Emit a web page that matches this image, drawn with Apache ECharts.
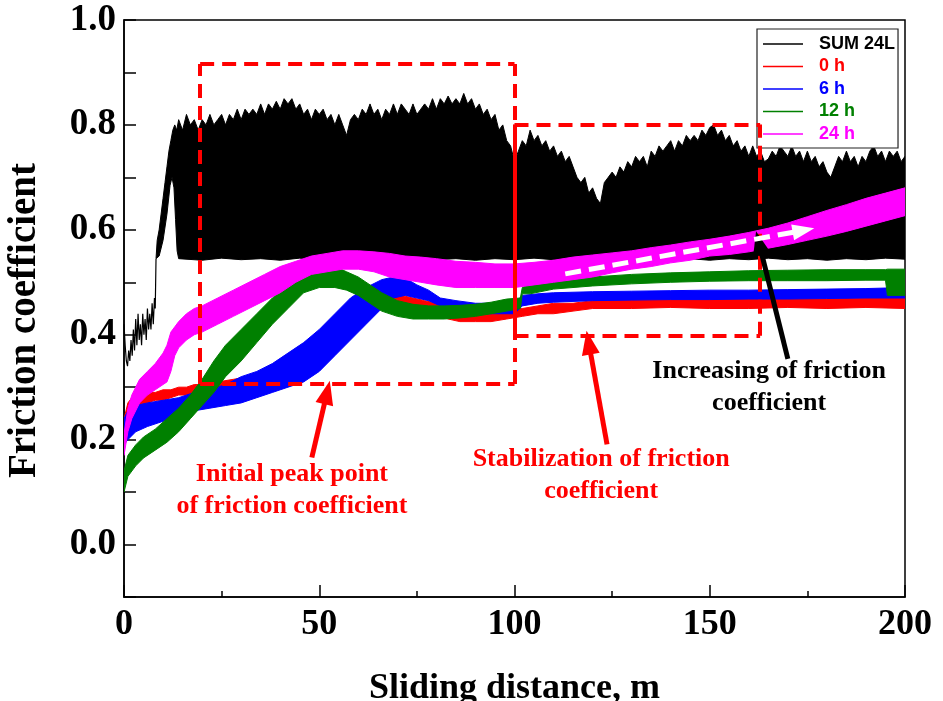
<!DOCTYPE html>
<html>
<head>
<meta charset="utf-8">
<script src="https://cdn.jsdelivr.net/npm/echarts@6/dist/echarts.min.js"></script>
<style>
  html, body { margin: 0; padding: 0; background: #fff; }
  #chart { width: 943px; height: 701px; }
</style>
</head>
<body>
<div id="chart"></div>
<script>
// ---- Friction coefficient vs sliding distance ----
const seriesNames = ['SUM 24L', '0 h', '6 h', '12 h', '24 h'];
const xTicks = [0, 50, 100, 150, 200];
const yTicks = [0.0, 0.2, 0.4, 0.6, 0.8, 1.0];

// SUM 24L: running-in trace before the large oscillation sets in [distance, mu]
const sum24Start = [
  [0, 0.42], [0.3, 0.38], [0.6, 0.35], [0.9, 0.34], [1.2, 0.37], [1.5, 0.35], [1.8, 0.39],
  [2.1, 0.36], [2.4, 0.41], [2.7, 0.37], [3.0, 0.43], [3.3, 0.38], [3.6, 0.44], [3.9, 0.39],
  [4.2, 0.42], [4.5, 0.38], [4.8, 0.44], [5.1, 0.40], [5.4, 0.43], [5.7, 0.39], [6.0, 0.45],
  [6.3, 0.41], [6.6, 0.44], [6.9, 0.41], [7.2, 0.46], [7.5, 0.42], [7.8, 0.47], [8.0, 0.45],
  [8.2, 0.545]
];

// SUM 24L oscillation band: upper envelope (early ramp, then 1 m sampling)
const sum24UpperRamp = [
  [8.2, 0.545], [8.5, 0.58], [9, 0.60], [9.5, 0.63], [10, 0.66], [10.5, 0.69], [11, 0.72],
  [11.5, 0.75], [12, 0.77], [12.5, 0.79], [13, 0.80], [13.5, 0.79]
];
const sum24UpperFrom14 = [
  0.81, 0.79, 0.82, 0.80, 0.81, 0.79, 0.81, 0.80, 0.82, 0.80, 0.81, 0.82, 0.80, 0.82, 0.81, 0.83,
  0.81, 0.83, 0.82, 0.83, 0.82, 0.84, 0.82, 0.84, 0.83, 0.845, 0.83, 0.85, 0.84, 0.85, 0.83, 0.84,
  0.82, 0.83, 0.81, 0.83, 0.82, 0.83, 0.81, 0.82, 0.80, 0.82, 0.80, 0.78, 0.81, 0.82, 0.81, 0.83,
  0.82, 0.84, 0.82, 0.83, 0.81, 0.83, 0.82, 0.84, 0.82, 0.84, 0.83, 0.82, 0.84, 0.82, 0.83, 0.84,
  0.83, 0.85, 0.83, 0.85, 0.84, 0.855, 0.84, 0.85, 0.84, 0.86, 0.84, 0.85, 0.83, 0.84, 0.82, 0.83,
  0.81, 0.82, 0.79, 0.80, 0.77, 0.76, 0.73, 0.75, 0.77, 0.76, 0.79, 0.77, 0.78, 0.76, 0.77, 0.75,
  0.76, 0.74, 0.75, 0.73, 0.74, 0.72, 0.70, 0.69, 0.70, 0.67, 0.68, 0.66, 0.65, 0.69, 0.70, 0.71,
  0.70, 0.72, 0.71, 0.73, 0.72, 0.74, 0.73, 0.74, 0.72, 0.75, 0.74, 0.76, 0.75, 0.76, 0.77, 0.75,
  0.77, 0.76, 0.78, 0.77, 0.78, 0.77, 0.79, 0.78, 0.795, 0.80, 0.78, 0.79, 0.77, 0.78, 0.76, 0.77,
  0.75, 0.76, 0.74, 0.76, 0.74, 0.75, 0.73, 0.735, 0.75, 0.74, 0.76, 0.75, 0.74, 0.76, 0.74, 0.75,
  0.73, 0.75, 0.73, 0.74, 0.72, 0.73, 0.71, 0.70, 0.72, 0.74, 0.73, 0.75, 0.73, 0.74, 0.72, 0.74,
  0.73, 0.75, 0.76, 0.74, 0.75, 0.73, 0.75, 0.74, 0.75, 0.73, 0.74
];
// SUM 24L oscillation band: lower envelope [distance, mu]
const sum24Lower = [
  [8.2, 0.545], [9, 0.55], [10, 0.58], [11, 0.63], [11.8, 0.685], [12.3, 0.70], [12.8, 0.68],
  [13.2, 0.62], [13.6, 0.56], [14, 0.545], [20, 0.542], [25, 0.546], [30, 0.543], [35, 0.545],
  [40, 0.542], [45, 0.546], [50, 0.543], [55, 0.545], [60, 0.542], [65, 0.545], [70, 0.543],
  [75, 0.546], [80, 0.543], [85, 0.545], [90, 0.542], [95, 0.545], [100, 0.543], [105, 0.546],
  [110, 0.543], [115, 0.545], [120, 0.542], [125, 0.545], [130, 0.543], [135, 0.546], [140, 0.543],
  [145, 0.545], [150, 0.542], [155, 0.545], [160, 0.543], [165, 0.546], [170, 0.543], [175, 0.545],
  [180, 0.542], [185, 0.545], [190, 0.543], [195, 0.546], [200, 0.544]
];

// Oscillation bands of the treated samples: [distance, lower mu, upper mu]
const band0h = [
  [0, 0.20, 0.24], [1, 0.24, 0.27], [2, 0.255, 0.28], [4, 0.265, 0.285], [6, 0.27, 0.29],
  [8, 0.275, 0.29], [10, 0.275, 0.295], [12, 0.28, 0.295], [14, 0.285, 0.30], [16, 0.285, 0.30],
  [18, 0.29, 0.305], [20, 0.29, 0.305], [24, 0.295, 0.31], [28, 0.30, 0.315], [32, 0.305, 0.32],
  [36, 0.31, 0.325], [40, 0.315, 0.33], [44, 0.325, 0.345], [48, 0.345, 0.37], [52, 0.38, 0.41],
  [55, 0.41, 0.44], [58, 0.44, 0.465], [60, 0.45, 0.47], [62, 0.455, 0.475], [65, 0.46, 0.48],
  [68, 0.46, 0.48], [71, 0.455, 0.475], [74, 0.45, 0.47], [77, 0.445, 0.465], [80, 0.44, 0.46],
  [83, 0.43, 0.45], [86, 0.425, 0.445], [90, 0.425, 0.44], [94, 0.425, 0.44], [98, 0.43, 0.445],
  [102, 0.435, 0.45], [106, 0.44, 0.455], [110, 0.44, 0.46], [115, 0.445, 0.46], [120, 0.45, 0.465],
  [130, 0.45, 0.468], [140, 0.452, 0.47], [150, 0.45, 0.47], [160, 0.45, 0.468], [170, 0.452, 0.47],
  [180, 0.45, 0.468], [190, 0.452, 0.47], [200, 0.45, 0.47]
];
const band6h = [
  [0, 0.19, 0.24], [1, 0.20, 0.255], [3, 0.215, 0.265], [6, 0.225, 0.27], [10, 0.235, 0.275],
  [14, 0.245, 0.28], [18, 0.255, 0.29], [22, 0.26, 0.295], [26, 0.265, 0.305], [30, 0.27, 0.32],
  [34, 0.28, 0.33], [38, 0.29, 0.345], [42, 0.30, 0.365], [46, 0.31, 0.385], [50, 0.33, 0.41],
  [54, 0.36, 0.44], [58, 0.39, 0.47], [62, 0.42, 0.49], [66, 0.45, 0.505], [69, 0.47, 0.51],
  [72, 0.475, 0.508], [75, 0.47, 0.495], [78, 0.465, 0.485], [81, 0.455, 0.47], [85, 0.445, 0.465],
  [90, 0.44, 0.46], [95, 0.44, 0.46], [100, 0.44, 0.46], [102, 0.455, 0.475], [106, 0.46, 0.478],
  [110, 0.462, 0.48], [120, 0.465, 0.482], [130, 0.466, 0.483], [140, 0.467, 0.484],
  [150, 0.467, 0.485], [160, 0.468, 0.485], [170, 0.468, 0.486], [180, 0.469, 0.487],
  [190, 0.47, 0.488], [200, 0.47, 0.49]
];
const band12h = [
  [0, 0.10, 0.14], [1, 0.13, 0.17], [3, 0.15, 0.19], [5, 0.165, 0.205], [8, 0.18, 0.22],
  [11, 0.195, 0.24], [14, 0.215, 0.26], [17, 0.24, 0.285], [20, 0.265, 0.315], [23, 0.29, 0.35],
  [26, 0.32, 0.38], [30, 0.35, 0.41], [34, 0.385, 0.44], [38, 0.42, 0.47], [42, 0.45, 0.495],
  [46, 0.48, 0.515], [50, 0.49, 0.525], [54, 0.49, 0.53], [57, 0.485, 0.52], [60, 0.475, 0.51],
  [63, 0.46, 0.495], [66, 0.445, 0.48], [70, 0.435, 0.465], [74, 0.43, 0.458], [78, 0.43, 0.455],
  [82, 0.43, 0.455], [86, 0.432, 0.456], [90, 0.435, 0.458], [94, 0.44, 0.462], [98, 0.445, 0.468],
  [101.5, 0.45, 0.47], [102, 0.478, 0.49], [104, 0.478, 0.497], [110, 0.487, 0.505],
  [120, 0.493, 0.51], [130, 0.497, 0.515], [140, 0.50, 0.518], [150, 0.502, 0.52],
  [160, 0.503, 0.522], [170, 0.503, 0.523], [180, 0.503, 0.524], [190, 0.504, 0.524],
  [195, 0.504, 0.524], [195.5, 0.475, 0.525], [200, 0.475, 0.525]
];
const band24h = [
  [0, 0.17, 0.21], [1, 0.215, 0.26], [2, 0.24, 0.285], [4, 0.27, 0.315], [6, 0.285, 0.33],
  [8, 0.295, 0.345], [10, 0.305, 0.365], [11, 0.31, 0.38], [12, 0.33, 0.405], [13, 0.36, 0.415],
  [14, 0.375, 0.425], [16, 0.39, 0.44], [18, 0.40, 0.45], [20, 0.405, 0.455], [24, 0.42, 0.47],
  [28, 0.435, 0.485], [32, 0.45, 0.50], [36, 0.465, 0.515], [40, 0.48, 0.53], [44, 0.50, 0.54],
  [48, 0.515, 0.55], [52, 0.52, 0.555], [56, 0.525, 0.56], [60, 0.525, 0.56], [64, 0.52, 0.558],
  [68, 0.51, 0.555], [72, 0.505, 0.55], [76, 0.50, 0.548], [80, 0.495, 0.545], [85, 0.49, 0.54],
  [90, 0.49, 0.538], [95, 0.49, 0.535], [100, 0.49, 0.535], [105, 0.495, 0.538], [110, 0.50, 0.542],
  [115, 0.505, 0.548], [120, 0.51, 0.552], [125, 0.518, 0.556], [130, 0.525, 0.56],
  [135, 0.53, 0.566], [140, 0.537, 0.571], [145, 0.542, 0.577], [150, 0.55, 0.582],
  [155, 0.553, 0.588], [160, 0.558, 0.595], [165, 0.565, 0.603], [170, 0.572, 0.613],
  [175, 0.58, 0.625], [180, 0.588, 0.637], [185, 0.597, 0.648], [190, 0.607, 0.66],
  [195, 0.617, 0.67], [200, 0.627, 0.68]
];

// Annotation regions and arrows, in axis units
const peakBox = { x: [19.5, 100], y: [0.306, 0.916] };
const stableBox = { x: [100, 162.9], y: [0.398, 0.801] };
const peakArrow = [[48.1, 0.166], [52.0, 0.29]];
const stableArrow = [[123.7, 0.191], [119.0, 0.385]];
const riseArrow = [[170.0, 0.354], [162.6, 0.575]];
const trendArrow = [[113.0, 0.516], [174.0, 0.599]];
const notes = [
  { text: 'Initial peak point\nof friction coefficient', at: [43.0, 0.103], color: '#ff0000' },
  { text: 'Stabilization of friction\ncoefficient', at: [122.2, 0.132], color: '#ff0000' },
  { text: 'Increasing of friction\ncoefficient', at: [165.2, 0.30], color: '#000000' }
];

// ---- build ----
const colors = { 'SUM 24L': '#000000', '0 h': '#ff0000', '6 h': '#0000ff', '12 h': '#008000', '24 h': '#ff00ff' };
const serif = '"Liberation Serif", "Times New Roman", serif';

const sum24Upper = sum24UpperRamp.concat(sum24UpperFrom14.map((v, i) => [14 + i, v]));

function polygonSeries(name, upper, lower) {
  return {
    name: name,
    type: 'custom',
    coordinateSystem: 'cartesian2d',
    clip: true,
    silent: true,
    animation: false,
    itemStyle: { color: colors[name] },
    data: [[0, 0]],
    renderItem: function (params, api) {
      const pts = upper.map(p => api.coord(p));
      for (let i = lower.length - 1; i >= 0; i--) pts.push(api.coord(lower[i]));
      return {
        type: 'polygon',
        shape: { points: pts },
        style: { fill: colors[name], stroke: colors[name], lineWidth: 1 }
      };
    }
  };
}
function bandSeries(name, band) {
  return polygonSeries(name, band.map(r => [r[0], r[2]]), band.map(r => [r[0], r[1]]));
}

function boxLines(box, solidLeft) {
  const [x0, x1] = box.x, [y0, y1] = box.y;
  const dashed = { type: [14, 8], width: 4, color: '#ff0000' };
  const segs = [
    [[x0, y1], [x1, y1]],
    [[x0, y0], [x1, y0]],
    [[x1, y0], [x1, y1]],
    [[x0, y0], [x0, y1]]
  ];
  return segs.map((s, i) => [
    { coord: s[0], lineStyle: (solidLeft && i === 3) ? { type: 'solid', width: 4, color: '#ff0000' } : dashed },
    { coord: s[1] }
  ]);
}
function arrowLine(seg, color, width, dash, head) {
  return [
    { coord: seg[0], lineStyle: { color: color, width: width, type: dash || 'solid' }, symbol: 'none' },
    { coord: seg[1], symbol: 'triangle', symbolSize: head }
  ];
}

const option = {
  backgroundColor: '#ffffff',
  animation: false,
  grid: {
    left: 124, right: 38, top: 20, bottom: 104,
    containLabel: false, outerBoundsMode: 'none',
    show: true, borderColor: '#000', borderWidth: 1.5, backgroundColor: 'transparent'
  },
  legend: {
    orient: 'vertical',
    left: 757, top: 29,
    padding: [6, 3, 5, 6],
    itemWidth: 40, itemHeight: 1.5, itemGap: 4.5,
    icon: 'rect',
    borderColor: '#222', borderWidth: 1.2, backgroundColor: '#ffffff',
    textStyle: { fontFamily: '"Liberation Sans", Arial, sans-serif', fontWeight: 'bold', fontSize: 18, padding: [0, 0, 0, 11] },
    data: seriesNames.map(n => ({ name: n, textStyle: { color: colors[n] } }))
  },
  xAxis: {
    type: 'value', min: 0, max: 200, interval: 50,
    name: 'Sliding distance, m', nameLocation: 'middle', nameGap: 74,
    nameTextStyle: { fontFamily: serif, fontWeight: 'bold', fontSize: 36, color: '#000' },
    axisLine: { show: true, onZero: false, lineStyle: { color: '#000', width: 1.5 } },
    axisTick: { show: true, inside: true, length: 12, lineStyle: { color: '#000', width: 1.5 } },
    minorTick: { show: true, splitNumber: 2, length: 6, lineStyle: { color: '#000', width: 1.5 } },
    splitLine: { show: false },
    axisLabel: {
      margin: 10, color: '#000', fontFamily: serif, fontWeight: 'bold', fontSize: 36,
      formatter: v => (xTicks.indexOf(v) >= 0 ? String(v) : '')
    }
  },
  yAxis: {
    type: 'value', min: -0.1, max: 1.0, interval: 0.1,
    name: 'Friction coefficient', nameLocation: 'middle', nameGap: 80,
    nameTextStyle: { fontFamily: serif, fontWeight: 'bold', fontSize: 39, color: '#000', padding: [0, 24, 0, 0] },
    axisLine: { show: true, onZero: false, lineStyle: { color: '#000', width: 1.5 } },
    axisTick: { show: true, inside: true, length: 12, lineStyle: { color: '#000', width: 1.5 } },
    splitLine: { show: false },
    axisLabel: {
      margin: 8, color: '#000', fontFamily: serif, fontWeight: 'bold', fontSize: 37,
      formatter: v => {
        const hit = yTicks.find(t => Math.abs(t - v) < 1e-6);
        return hit === undefined ? '' : hit.toFixed(1);
      }
    }
  },
  series: [
    {
      name: 'SUM 24L', type: 'line', data: sum24Start, symbol: 'none', silent: true,
      lineStyle: { color: colors['SUM 24L'], width: 1.2 }, itemStyle: { color: colors['SUM 24L'] }
    },
    polygonSeries('SUM 24L', sum24Upper, sum24Lower),
    bandSeries('0 h', band0h),
    bandSeries('6 h', band6h),
    bandSeries('12 h', band12h),
    bandSeries('24 h', band24h),
    {
      name: 'notes', type: 'line', data: [], silent: true, z: 5,
      markLine: {
        silent: true, animation: false, symbol: 'none', label: { show: false },
        emphasis: { disabled: true },
        data: boxLines(peakBox, false).concat(boxLines(stableBox, true)).concat([
          arrowLine(peakArrow, '#ff0000', 5, null, [18, 24]),
          arrowLine(stableArrow, '#ff0000', 5, null, [18, 24]),
          arrowLine(riseArrow, '#000000', 5, null, [18, 24]),
          arrowLine(trendArrow, '#ffffff', 5, [16, 8], [16, 22])
        ])
      },
      markPoint: {
        silent: true, animation: false, symbol: 'circle', symbolSize: 0,
        data: notes.map(n => ({
          coord: n.at,
          label: {
            show: true, position: 'inside', formatter: n.text, color: n.color,
            fontFamily: serif, fontWeight: 'bold', fontSize: 26, lineHeight: 32, align: 'center'
          }
        }))
      }
    }
  ]
};

const chart = echarts.init(document.getElementById('chart'), null, { renderer: 'canvas' });
chart.setOption(option);
</script>
</body>
</html>
